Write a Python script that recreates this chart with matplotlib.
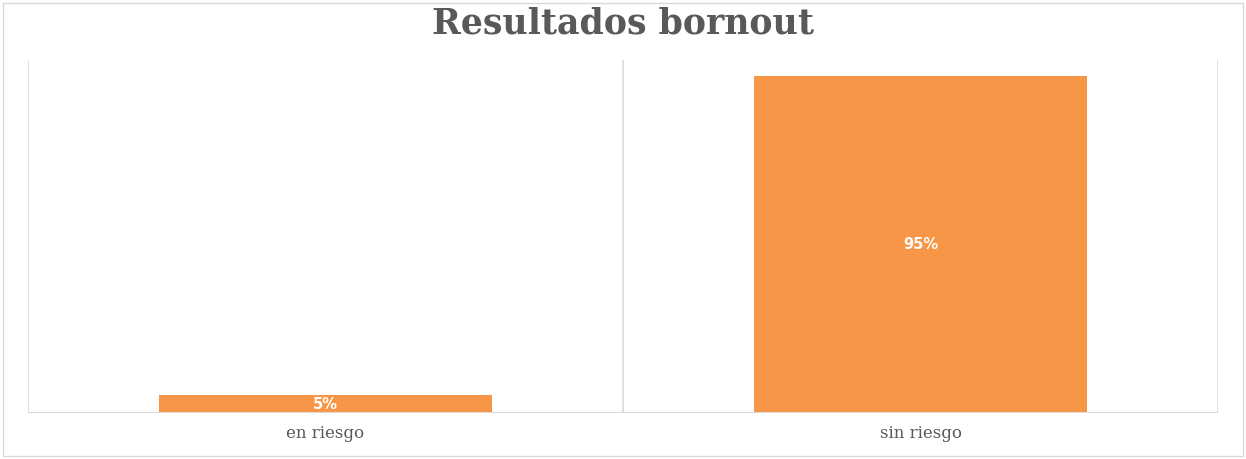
import numpy as np
import matplotlib
matplotlib.use("Agg")
import matplotlib.pyplot as plt
from matplotlib.patches import Rectangle

# data
categories = ["en riesgo", "sin riesgo"]
values = [5, 95]
labels = ["5%", "95%"]

bar_color = "#f79646"
grey = "#595959"
line_col = "#d9d9d9"

fig = plt.figure(figsize=(12.46, 4.59), dpi=100)
ax = fig.add_axes([28/1246, 46/459, 1190/1246, 353/459])

x = np.arange(len(categories))
ax.bar(x, values, width=0.56, color=bar_color, zorder=3)
ax.set_xlim(-0.5, len(categories) - 0.5)
ax.set_ylim(0, 99.5)

# category separators (excel style vertical gridlines)
for b in np.arange(-0.5, len(categories), 1.0):
    ax.axvline(b, color=line_col, lw=1.2, zorder=1)

for s in ax.spines.values():
    s.set_visible(False)
ax.axhline(0, color=line_col, lw=1.5, zorder=4)

ax.set_yticks([])
ax.set_xticks(x)
ax.set_xticklabels(categories, family="DejaVu Serif", fontsize=12, color=grey)
ax.tick_params(axis="x", length=0, pad=9)

for xi, v, lab in zip(x, values, labels):
    ax.text(xi, v / 2, lab, ha="center", va="center", color="white",
            fontsize=10.5, fontweight="bold", zorder=5)

fig.text(0.5, 1 - 24/459, "Resultados bornout", ha="center", va="center",
         family="DejaVu Serif", fontweight="bold", fontsize=25, color=grey)

# outer border
fig.patches.append(Rectangle((3/1246, 3/459), 1 - 6/1246, 1 - 6/459,
                             transform=fig.transFigure, fill=False,
                             edgecolor=line_col, lw=1))

fig.savefig("out.png", dpi=100, facecolor="white")
